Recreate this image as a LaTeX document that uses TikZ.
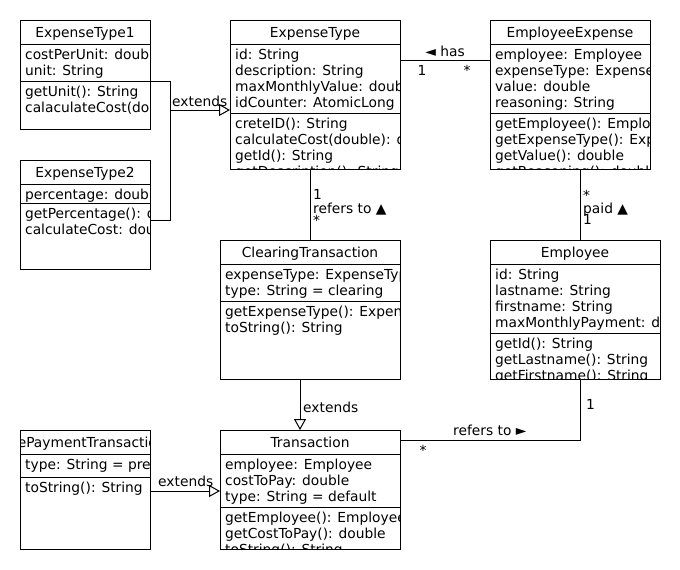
\documentclass[tikz,border=0pt]{standalone}
\usepackage{fontspec}
\setmainfont{DejaVu Sans}
\usetikzlibrary{arrows.meta,calc}

\newcommand\umlfont{\fontsize{13.8}{16}\selectfont}

\tikzset{
  frame/.style={inner sep=0pt, outer sep=0pt, anchor=north west},
  member/.style={anchor=base west, inner sep=0pt, font=\umlfont},
  classtitle/.style={anchor=base, inner sep=0pt, font=\umlfont},
  lbl/.style={inner sep=0pt, font=\umlfont},
  rule/.style={line width=1pt},
  assoc/.style={line width=1pt},
  ext/.style={line width=1pt, -{Triangle[open, length=11pt, width=12pt, fill=white]}},
}

% #1 name, #2 left, #3 top, #4 right, #5 bottom, #6 title,
% #7 y of the attribute/operation rule, #8 attributes, #9 operations
\newcommand\classbox[9]{%
  \node[frame, minimum width={(#4-#2)*1pt}, minimum height={(#5-#3)*1pt}] (#1) at (#2,#3) {};
  \begin{scope}
    \clip (#2,#3) rectangle (#4,#5);
    \node[classtitle] (#1-t) at ({(#2+#4)/2},{#3+17.5}) {#6};
    \foreach \t [count=\i] in {#8}
      \node[member] (#1-a\i) at ({#2+5},{#3+24+15.5+16*(\i-1)}) {\t};
    \foreach \t [count=\i] in {#9}
      \node[member] (#1-m\i) at ({#2+5},{#7+15.5+16*(\i-1)}) {\t};
  \end{scope}
  \draw[rule] (#1.north west) rectangle (#1.south east);
  \draw[rule] (#2,#3+24) -- (#4,#3+24) (#2,#7) -- (#4,#7);
}

\begin{document}
\begin{tikzpicture}[x=1pt, y=-1pt]
  \fill[white] (0,0) rectangle (680,570);
  \useasboundingbox (0,0) rectangle (680,570);

  \classbox{et1}{20}{20}{150}{129}{ExpenseType1}{81}
    {costPerUnit: double, unit: String}
    {getUnit(): String, calaculateCost(double): double}
  \classbox{et2}{20}{160}{150}{269}{ExpenseType2}{203}
    {percentage: double}
    {getPercentage(): double, calculateCost: double}
  \classbox{et}{230}{20}{400}{169}{ExpenseType}{113}
    {id: String, description: String, maxMonthlyValue: double, idCounter: AtomicLong}
    {creteID(): String, calculateCost(double): double, getId(): String, getDescription(): String}
  \classbox{ee}{490}{20}{650}{169}{EmployeeExpense}{113}
    {employee: Employee, expenseType: ExpenseType, value: double, reasoning: String}
    {getEmployee(): Employee, getExpenseType(): ExpenseType, getValue(): double, getReasoning(): double}
  \classbox{ct}{220}{240}{400}{379}{ClearingTransaction}{301}
    {expenseType: ExpenseType, type: String = clearing}
    {getExpenseType(): ExpenseType, toString(): String}
  \classbox{emp}{490}{240}{660}{379}{Employee}{333}
    {id: String, lastname: String, firstname: String, maxMonthlyPayment: double}
    {getId(): String, getLastname(): String, getFirstname(): String}
  \classbox{pp}{20}{430}{150}{549}{PrePaymentTransaction}{477}
    {type: String = prepayment}
    {toString(): String}
  \classbox{tr}{220}{430}{400}{549}{Transaction}{507}
    {employee: Employee, costToPay: double, type: String = default}
    {getEmployee(): Employee, getCostToPay(): double, toString(): String}

  % ExpenseType1 / ExpenseType2 generalise to ExpenseType
  \coordinate (join) at ($(et1.north east)+(20,90)$);
  \draw[assoc] ($(et1.north east)+(0,61)$) -- ++(20,0) |- ($(et2.north east)+(0,60)$);
  \draw[ext] (join) -- ($(et.north west)+(0,90)$);
  \node[lbl, anchor=base west] (ext1) at (172,106) {extends};

  % ExpenseType -- EmployeeExpense
  \draw[assoc] ($(et.north east)+(0,40)$) -- ($(ee.north west)+(0,40)$);
  \node[lbl, anchor=base] (hasl) at (445,56) {◄ has};
  \node[lbl, anchor=base] (has1) at (422,75) {1};
  \node[lbl, anchor=base] (hasm) at (467,75) {*};

  % ExpenseType -- ClearingTransaction
  \draw[assoc] (ct.north |- et.south) -- (ct.north);
  \node[lbl, anchor=base west] (ref1) at (313,199) {1};
  \node[lbl, anchor=base west] (refl) at (313,213) {refers to ▲};
  \node[lbl, anchor=base west] (refm) at (313,225) {*};

  % EmployeeExpense -- Employee
  \draw[assoc] ($(ee.south west)+(90,0)$) -- ($(emp.north west)+(90,0)$);
  \node[lbl, anchor=base west] (paidm) at (583,200) {*};
  \node[lbl, anchor=base west] (paidl) at (583,213) {paid ▲};
  \node[lbl, anchor=base west] (paid1) at (583,224) {1};

  % ClearingTransaction generalises to Transaction
  \draw[ext] ($(ct.south west)+(80,0)$) -- ($(tr.north west)+(80,0)$);
  \node[lbl, anchor=base west] (ext2) at (303,412) {extends};

  % PrePaymentTransaction generalises to Transaction
  \draw[ext] ($(pp.north east)+(0,61)$) -- ($(tr.north west)+(0,61)$);
  \node[lbl, anchor=base west] (ext3) at (158,486) {extends};

  % Transaction -- Employee
  \draw[assoc] ($(tr.north east)+(0,10)$) -| ($(emp.south west)+(90,0)$);
  \node[lbl, anchor=base west] (trl) at (453,435) {refers to ►};
  \node[lbl, anchor=base] (trm) at (423,455) {*};
  \node[lbl, anchor=base west] (tr1) at (586,409) {1};
\end{tikzpicture}
\end{document}
